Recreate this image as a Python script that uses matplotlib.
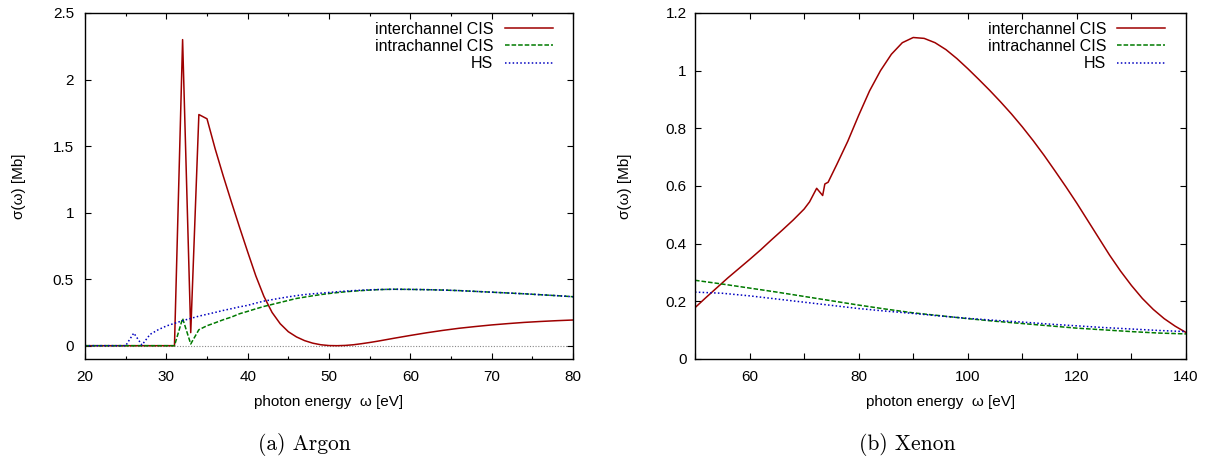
import matplotlib
matplotlib.use('Agg')
import matplotlib.pyplot as plt
from matplotlib.ticker import FuncFormatter, MultipleLocator

plt.rcParams['font.family'] = ['Liberation Sans', 'DejaVu Sans']
plt.rcParams['font.size'] = 11

# Argon photoabsorption cross sections [Mb]
ar_energy = [20, 25, 26, 27, 28, 29, 30, 31, 32, 33, 34, 35, 36, 37, 38, 39, 40, 41, 42, 43,
             44, 45, 46, 47, 48, 49, 50, 51, 52, 53, 54, 55, 56, 57, 58, 60, 62, 64, 66, 68,
             70, 72, 74, 76, 78, 80]
ar_inter = [0, 0, 0, 0, 0, 0, 0, 0, 2.30, 0.098, 1.737, 1.705, 1.48, 1.275, 1.08, 0.89, 0.705,
            0.525, 0.37, 0.25, 0.165, 0.105, 0.066, 0.038, 0.019, 0.007, 0.001, 0.0, 0.002, 0.007,
            0.015, 0.024, 0.034, 0.045, 0.056, 0.077, 0.097, 0.115, 0.131, 0.144, 0.156, 0.166,
            0.175, 0.182, 0.188, 0.193]
ar_intra = [0, 0, 0, 0, 0, 0, 0, 0, 0.205, 0.013, 0.12, 0.15, 0.172, 0.195, 0.215, 0.24, 0.258,
            0.277, 0.295, 0.31, 0.325, 0.34, 0.355, 0.365, 0.375, 0.384, 0.392, 0.399, 0.405,
            0.41, 0.414, 0.418, 0.421, 0.423, 0.424, 0.423, 0.421, 0.418, 0.414, 0.408,
            0.402, 0.396, 0.39, 0.383, 0.376, 0.368]
ar_hs = [0, 0, 0.095, 0.005, 0.085, 0.12, 0.148, 0.168, 0.188, 0.205, 0.222, 0.236, 0.25, 0.265,
         0.278, 0.292, 0.303, 0.32, 0.335, 0.346, 0.357, 0.367, 0.376, 0.384, 0.39, 0.395, 0.40,
         0.405, 0.41, 0.414, 0.417, 0.42, 0.422, 0.423, 0.424, 0.423, 0.421, 0.418, 0.414,
         0.408, 0.402, 0.396, 0.39, 0.383, 0.376, 0.368]

# Xenon photoabsorption cross sections [Mb]
xe_energy = [50, 52, 54, 56, 58, 60, 62, 64, 66, 68, 70, 71, 72.3, 73.4, 73.8, 74.4, 76, 78, 80,
             82, 84, 86, 88, 90, 92, 94, 96, 98, 100, 102, 104, 106, 108, 110, 112, 114, 116,
             118, 120, 122, 124, 126, 128, 130, 132, 134, 136, 138, 140]
xe_inter = [0.178, 0.213, 0.247, 0.281, 0.313, 0.345, 0.378, 0.413, 0.447, 0.482, 0.52, 0.545,
            0.592, 0.567, 0.607, 0.613, 0.675, 0.755, 0.845, 0.93, 1.0, 1.057, 1.097, 1.115,
            1.112, 1.097, 1.073, 1.042, 1.007, 0.97, 0.932, 0.892, 0.85, 0.805, 0.757, 0.706,
            0.652, 0.597, 0.54, 0.48, 0.42, 0.36, 0.305, 0.255, 0.21, 0.172, 0.14, 0.114, 0.092]
xe_grid = [50, 55, 60, 65, 70, 75, 80, 85, 90, 95, 100, 105, 110, 115, 120, 125, 130, 135, 140]
xe_intra = [0.273, 0.26, 0.246, 0.232, 0.217, 0.202, 0.187, 0.173, 0.16, 0.15, 0.14, 0.131,
            0.123, 0.115, 0.107, 0.101, 0.095, 0.09, 0.087]
xe_hs = [0.232, 0.228, 0.219, 0.208, 0.197, 0.186, 0.175, 0.166, 0.158, 0.149, 0.141, 0.134,
         0.128, 0.121, 0.115, 0.109, 0.104, 0.099, 0.095]

red = '#9e0000'
green = '#007a00'
blue = '#0000c0'

W, H = 1211, 467
fig = plt.figure(figsize=(W / 100, H / 100), dpi=100)
ax1 = fig.add_axes([85 / W, 108 / H, 488 / W, 346 / H])
ax2 = fig.add_axes([695 / W, 108 / H, 491 / W, 346 / H])

fmt = FuncFormatter(lambda v, p: '%g' % round(v, 3))


def style(ax):
    for s in ax.spines.values():
        s.set_linewidth(1.0)
    ax.tick_params(which='both', direction='in', top=True, right=True, width=0.8,
                   labelsize=11)
    ax.yaxis.set_major_formatter(fmt)
    ax.xaxis.set_major_formatter(fmt)
    ax.set_xlabel('photon energy  ω [eV]', fontsize=11, labelpad=8)
    ax.set_ylabel('σ(ω) [Mb]', fontsize=11)


def draw(ax, x1, y1, x2, y2, y3):
    ax.plot(x1, y1, color=red, lw=1.1, label='interchannel CIS')
    ax.plot(x2, y2, color=green, lw=1.1, ls=(0, (3, 1.3)), label='intrachannel CIS')
    ax.plot(x2, y3, color=blue, lw=1.1, ls=(0, (1, 1.5)), label='HS')
    ax.legend(loc='upper right', bbox_to_anchor=(0.958, 0.975), frameon=False,
              markerfirst=False, handlelength=3.0, handletextpad=0.7,
              labelspacing=0.15, borderpad=0, borderaxespad=0, fontsize=11.5)


# Argon
draw(ax1, ar_energy, ar_inter, ar_energy, ar_intra, ar_hs)
ax1.axhline(0, color='#888888', lw=0.8, ls=(0, (1, 1.5)), zorder=0)
ax1.set_xlim(20, 80)
ax1.set_ylim(-0.1, 2.5)
ax1.xaxis.set_major_locator(MultipleLocator(10))
ax1.xaxis.set_minor_locator(MultipleLocator(5))
ax1.yaxis.set_major_locator(MultipleLocator(0.5))
style(ax1)
ax1.tick_params(which='major', length=4.5)
ax1.tick_params(which='minor', length=2.3)
ax1.tick_params(axis='y', pad=8)
ax1.tick_params(axis='x', pad=8)
ax1.yaxis.set_label_coords(-0.12, 0.5)

# Xenon
draw(ax2, xe_energy, xe_inter, xe_grid, xe_intra, xe_hs)
ax2.set_xlim(50, 140)
ax2.set_ylim(0, 1.2)
ax2.xaxis.set_major_locator(MultipleLocator(20))
ax2.xaxis.set_minor_locator(MultipleLocator(10))
ax2.yaxis.set_major_locator(MultipleLocator(0.2))
style(ax2)
ax2.tick_params(which='both', length=4.5)
ax2.tick_params(axis='y', pad=6)
ax2.tick_params(axis='x', pad=8)
ax2.yaxis.set_label_coords(-0.128, 0.5)

fig.text(304 / W, 1 - 445 / H, '(a) Argon', fontfamily='cmr10', fontsize=15.5,
         ha='center', va='center')
fig.text(907 / W, 1 - 445 / H, '(b) Xenon', fontfamily='cmr10', fontsize=15.5,
         ha='center', va='center')

fig.savefig('out.png', dpi=100)
